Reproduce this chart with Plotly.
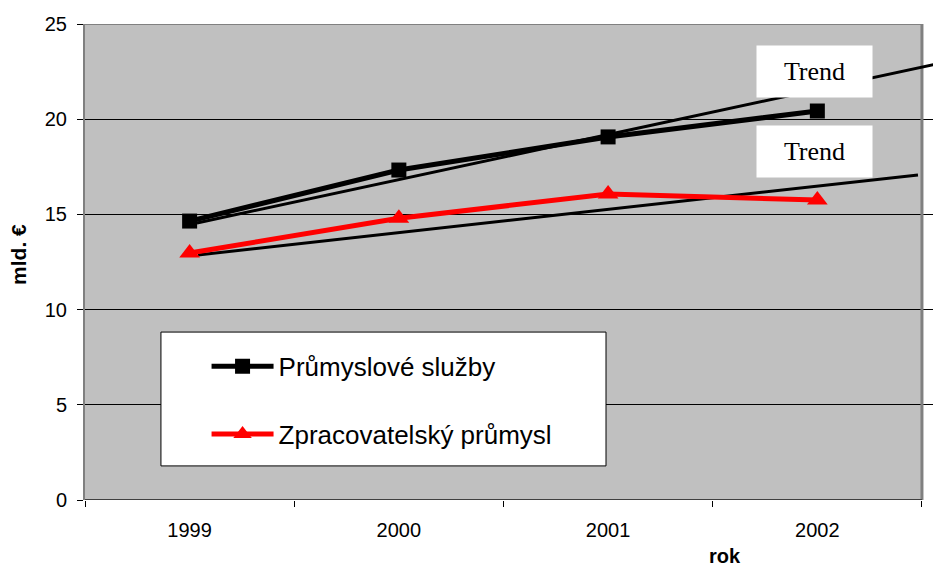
import plotly.graph_objects as go

# rok -> osa x (indexy kategorii)
roky = ["1999", "2000", "2001", "2002"]
poradi = [0, 1, 2, 3]

# mld. EUR
prumyslove_sluzby = [14.65, 17.33, 19.07, 20.43]
zpracovatelsky_prumysl = [12.97, 14.80, 16.07, 15.75]

# rucne kreslene trendove cary (konce car, v souradnicich grafu)
trend_sluzby_x = [0.035, 3.591]
trend_sluzby_y = [14.55, 22.95]
trend_zprac_x = [0.04, 3.481]
trend_zprac_y = [12.87, 17.07]

FONT = "Liberation Sans, Arial, sans-serif"
SERIF = "Liberation Serif, Times New Roman, serif"

fig = go.Figure()

fig.add_trace(go.Scatter(
    x=trend_sluzby_x, y=trend_sluzby_y, mode="lines",
    line=dict(color="black", width=3), showlegend=False, hoverinfo="skip",
))
fig.add_trace(go.Scatter(
    x=trend_zprac_x, y=trend_zprac_y, mode="lines",
    line=dict(color="black", width=3), showlegend=False, hoverinfo="skip",
))
fig.add_trace(go.Scatter(
    x=poradi, y=prumyslove_sluzby, mode="lines+markers",
    name="Průmyslové služby", legendgroup="a",
    line=dict(color="black", width=5),
    marker=dict(symbol="square", size=15, color="black"),
))
fig.add_trace(go.Scatter(
    x=poradi, y=zpracovatelsky_prumysl, mode="lines+markers",
    name="Zpracovatelský průmysl", legendgroup="b",
    line=dict(color="#ff0000", width=5),
    marker=dict(symbol="triangle-up", size=18, color="#ff0000"),
))

shapes = [
    # bila plocha vpravo od grafu (trend 1 presahuje)
    dict(type="rect", xref="x", yref="paper", x0=3.5, x1=3.7, y0=-0.01, y1=1.01,
         fillcolor="white", line=dict(width=0), layer="between"),
    # ramecek legendy
    dict(type="rect", xref="x", yref="y", x0=-0.137, x1=1.99, y0=1.79, y1=8.82,
         fillcolor="white", line=dict(color="black", width=1), layer="between"),
    # okraje plochy grafu
    dict(type="line", xref="x", yref="y", x0=-0.5, x1=3.5, y0=25, y1=25,
         line=dict(color="#808080", width=2), layer="between"),
    dict(type="line", xref="x", yref="y", x0=3.5, x1=3.5, y0=0, y1=25,
         line=dict(color="#808080", width=3), layer="between"),
    dict(type="line", xref="x", yref="y", x0=-0.5, x1=3.5, y0=0, y1=0,
         line=dict(color="#404040", width=2), layer="between"),
]

annotations = [
    dict(text="Trend", x=2.986, y=22.5, xref="x", yref="y", showarrow=False,
         width=113, height=49, bgcolor="white", font=dict(family=SERIF, size=26, color="black")),
    dict(text="Trend", x=2.986, y=18.33, xref="x", yref="y", showarrow=False,
         width=113, height=49, bgcolor="white", font=dict(family=SERIF, size=26, color="black")),
    dict(text="<b>mld. €</b>", x=-0.077, y=0.515, xref="paper", yref="paper",
         showarrow=False, textangle=-90, xanchor="center", yanchor="middle",
         font=dict(family=FONT, size=21, color="black")),
    dict(text="<b>rok</b>", x=0.748, y=-0.118, xref="paper", yref="paper",
         showarrow=False, xanchor="center", yanchor="middle",
         font=dict(family=FONT, size=20, color="black")),
]

# stranka ma okraj 8 px, proto je obrazek o 8 px mensi
fig.update_layout(
    width=933, height=559,
    margin=dict(l=77, r=0, t=16, b=67),
    paper_bgcolor="white",
    plot_bgcolor="#c0c0c0",
    font=dict(family=FONT, size=20, color="black"),
    shapes=shapes,
    annotations=annotations,
    legend=dict(
        x=0.142, y=0.33, xanchor="left", yanchor="top",
        bgcolor="rgba(0,0,0,0)", borderwidth=0,
        font=dict(family=FONT, size=26, color="black"),
        tracegroupgap=31, itemwidth=62,
    ),
    showlegend=True,
)

fig.update_xaxes(
    range=[-0.5, 3.591],
    tickmode="array", tickvals=poradi, ticktext=roky,
    ticks="", showgrid=False, zeroline=False, showline=False,
    ticklabelstandoff=16,
    tickfont=dict(family=FONT, size=20),
    minor=dict(tickmode="array", tickvals=[-0.5, 0.5, 1.5, 2.5, 3.5],
               ticks="outside", ticklen=6, tickcolor="black", showgrid=False),
)
fig.update_yaxes(
    range=[0, 25], tickmode="array", tickvals=[0, 5, 10, 15, 20, 25],
    ticks="outside", ticklen=6, tickcolor="black",
    showgrid=True, gridcolor="black", gridwidth=1,
    zeroline=False, showline=True, linecolor="#808080", linewidth=2,
    ticklabelstandoff=6,
    tickfont=dict(family=FONT, size=20),
)

fig.write_html("out.html")
